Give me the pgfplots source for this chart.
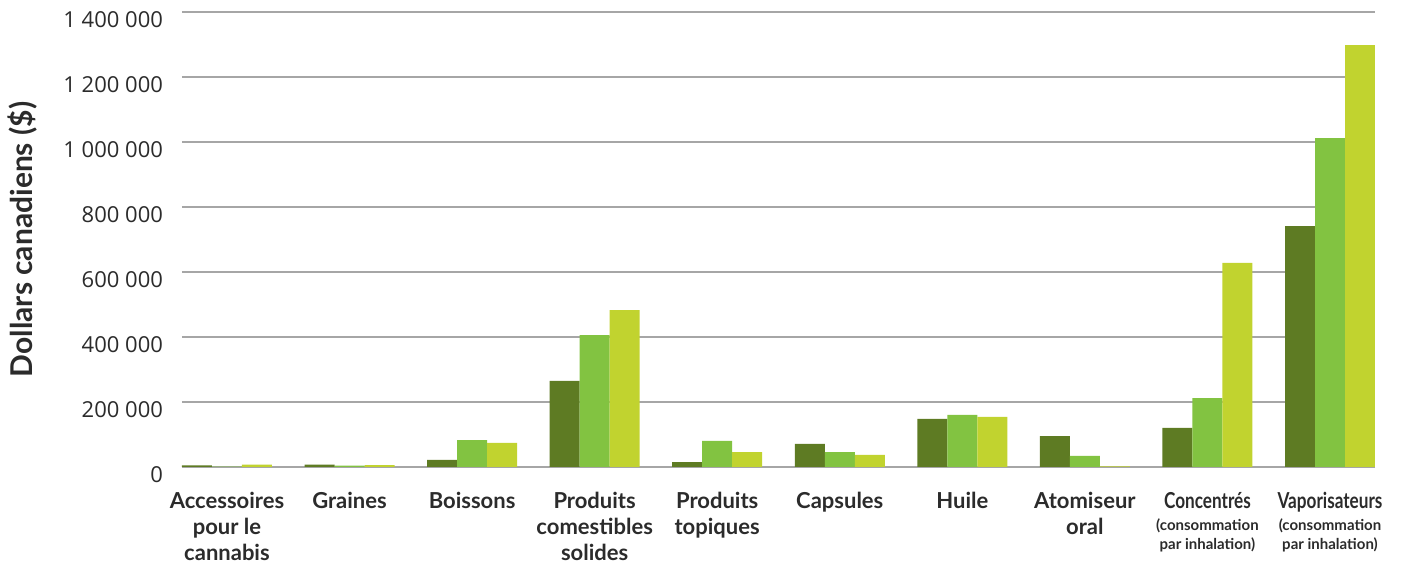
\documentclass[border=0pt]{standalone}
\usepackage{fontspec}
\setmainfont{Lato}
\newfontfamily\tickfont{Open Sans}
\usepackage{graphicx}
\usepackage{pgfplots}
\usepackage{pgfplotstable}
\pgfplotsset{compat=1.18}
\definecolor{cdark}{HTML}{5E7B23}
\definecolor{cmid}{HTML}{82C341}
\definecolor{clight}{HTML}{C1D32F}
\definecolor{gridc}{HTML}{A6A6A6}
\definecolor{txt}{HTML}{2B2B2B}
\pgfplotstableread{
x a b c
0 5000 1500 7000
1 7000 4000 6000
2 22000 83000 74000
3 265000 406000 483000
4 15000 80000 46000
5 71000 46000 37000
6 148000 160000 154000
7 95000 34000 2000
8 120000 212000 628000
9 741000 1012000 1298000
}\datatable
\newcommand{\cond}[1]{\scalebox{0.78}[1]{#1}}
\newcommand{\sm}{\fontsize{7.5}{9}\selectfont}
\begin{document}
\begin{tikzpicture}
\useasboundingbox (-91pt,-49pt) rectangle (610.5pt,233.5pt);
\begin{axis}[
 at={(0,0)}, anchor=south west,
 scale only axis, width=596.5pt, height=227.5pt,
 xmin=-0.367, xmax=9.367, ymin=0, ymax=1400000,
 ybar=0pt, bar width=15pt,
 axis line style={draw=none},
 tick style={draw=none},
 scaled y ticks=false,
 ymajorgrids, major grid style={gridc, line width=1pt},
 ytick={0,200000,400000,600000,800000,1000000,1200000,1400000},
 yticklabels={0,200~000,400~000,600~000,800~000,1~000~000,1~200~000,1~400~000},
 yticklabel style={font=\tickfont\fontsize{11}{13}\selectfont, text=txt, xshift=-6pt, yshift=-4pt},
 xtick={0,...,9},
 xticklabels={
  {Accessoires\\pour le\\cannabis},
  {Graines},
  {Boissons},
  {Produits\\comestibles\\solides},
  {Produits\\topiques},
  {Capsules},
  {Huile},
  {Atomiseur\\oral},
  {\cond{Concentrés}\\[-2pt]{\sm(consommation}\\[-3.5pt]{\sm par inhalation)}},
  {\cond{Vaporisateurs}\\[-2pt]{\sm(consommation}\\[-3.5pt]{\sm par inhalation)}}
 },
 xticklabel style={font=\bfseries\fontsize{11}{13}\selectfont, text=txt, align=center, anchor=north, yshift=-5pt},
 ylabel={Dollars canadiens (\$)},
 ylabel style={font=\bfseries\fontsize{15}{17}\selectfont, text=txt, at={(axis description cs:-0.1341,0.5)}, anchor=center},
]
\addplot[fill=cdark, draw=none] table[x=x, y=a] {\datatable};
\addplot[fill=cmid, draw=none] table[x=x, y=b] {\datatable};
\addplot[fill=clight, draw=none] table[x=x, y=c] {\datatable};
\end{axis}
\end{tikzpicture}
\end{document}
